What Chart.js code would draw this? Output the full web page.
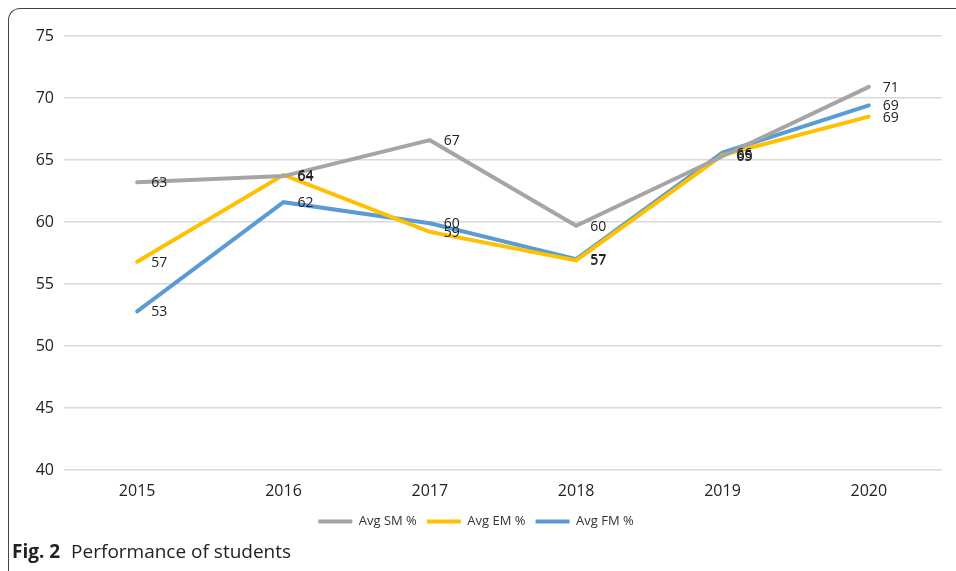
<!DOCTYPE html>
<html>
<head>
<meta charset="utf-8">
<script src="https://cdn.jsdelivr.net/npm/chart.js@4/dist/chart.umd.min.js"></script>
<style>
  html, body { margin: 0; padding: 0; background: #fff; }
  body { width: 956px; height: 571px; position: relative; overflow: hidden; }
  #frame {
    position: absolute; left: 8px; top: 8px; width: 990px; height: 600px;
    border-top: 1.5px solid #444; border-left: 1.5px solid #444;
    border-top-left-radius: 12px;
  }
  #myChart { position: absolute; left: 0; top: 0; }
  #caption {
    position: absolute; left: 12px; top: 538px;
    font-family: "Open Sans", sans-serif; font-size: 19px; color: #222;
  }
  #caption b { font-weight: 700; margin-right: 6px; }
</style>
</head>
<body>
<div id="frame"></div>
<canvas id="myChart" width="956" height="540"></canvas>
<div id="caption"><b>Fig. 2</b> Performance of students</div>
<script>
const years = ["2015", "2016", "2017", "2018", "2019", "2020"];
const avgSM = [63.2, 63.7, 66.6, 59.7, 65.3, 70.9];
const avgEM = [56.8, 63.8, 59.2, 56.9, 65.4, 68.5];
const avgFM = [52.8, 61.6, 59.9, 57.0, 65.6, 69.4];

// value labels to the right of each point (Excel style)
const pointLabels = {
  id: "pointLabels",
  afterDatasetsDraw(chart) {
    const ctx = chart.ctx;
    ctx.save();
    ctx.font = "14px 'Open Sans', sans-serif";
    ctx.fillStyle = "#222";
    ctx.textAlign = "left";
    ctx.textBaseline = "middle";
    chart.data.datasets.forEach((ds, i) => {
      chart.getDatasetMeta(i).data.forEach((pt, j) => {
        ctx.fillText(Math.round(ds.data[j]), pt.x + 14, pt.y + 1);
      });
    });
    ctx.restore();
  }
};

new Chart(document.getElementById("myChart"), {
  type: "line",
  data: {
    labels: years,
    datasets: [
      { label: "Avg SM %", data: avgSM, borderColor: "#A5A5A5", backgroundColor: "#A5A5A5", borderWidth: 4 },
      { label: "Avg EM %", data: avgEM, borderColor: "#FFC000", backgroundColor: "#FFC000", borderWidth: 4 },
      { label: "Avg FM %", data: avgFM, borderColor: "#5B9BD5", backgroundColor: "#5B9BD5", borderWidth: 4 }
    ]
  },
  options: {
    responsive: false,
    animation: false,
    elements: {
      line: { tension: 0, borderCapStyle: "round" },
      point: { radius: 0 }
    },
    layout: { padding: { top: 36, right: 14, left: 10, bottom: 2 } },
    scales: {
      x: {
        offset: true,
        grid: { display: false },
        border: { display: false },
        ticks: { color: "#222", padding: 4, font: { family: "'Open Sans', sans-serif", size: 16 } },
        afterFit(scale) { scale.height = 35; }
      },
      y: {
        min: 40,
        max: 75,
        ticks: { stepSize: 5, color: "#222", padding: 10, font: { family: "'Open Sans', sans-serif", size: 16 } },
        grid: { color: "#D9D9D9", lineWidth: 1.5, drawTicks: false },
        border: { display: false },
        afterFit(scale) { scale.width = 54; }
      }
    },
    plugins: {
      legend: {
        position: "bottom",
        labels: {
          usePointStyle: true,
          pointStyle: "line",
          pointStyleWidth: 34,
          boxHeight: 12,
          padding: 10,
          color: "#333",
          font: { family: "'Open Sans', sans-serif", size: 13 }
        }
      },
      tooltip: { enabled: false }
    }
  },
  plugins: [pointLabels]
});
</script>
</body>
</html>
